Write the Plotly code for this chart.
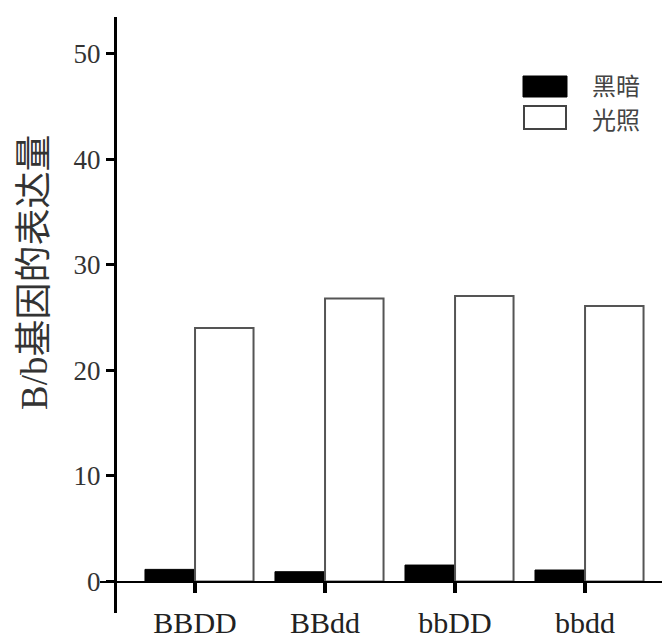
import plotly.graph_objects as go

# ---- data ----
categories = ["BBDD", "BBdd", "bbDD", "bbdd"]
dark_values = [1.15, 0.93, 1.56, 1.09]      # 黑暗
light_values = [24.0, 26.8, 27.05, 26.1]    # 光照
series_names = ["黑暗", "光照"]
y_ticks = [0, 10, 20, 30, 40, 50]
y_title = "B/b基因的表达量"

positions = list(range(len(categories)))

LATIN = "Liberation Serif, Times New Roman, Noto Sans CJK SC, serif"

fig = go.Figure()
fig.add_trace(go.Bar(
    x=positions, y=dark_values, name=series_names[0],
    width=0.385, offset=-0.385,
    marker=dict(color="black", line=dict(color="black", width=1)),
    showlegend=False,
))
fig.add_trace(go.Bar(
    x=positions, y=light_values, name=series_names[1],
    width=0.45, offset=0,
    marker=dict(color="white", line=dict(color="#555555", width=2)),
    showlegend=False,
))

# pixel -> paper helpers for the layout (plot area: x 100..662, y 17..613)
def px(xp):
    return (xp - 100) / 562.0

def py(yp):
    return (613 - yp) / 596.0

fig.update_layout(
    width=662, height=638,
    margin=dict(l=100, r=0, t=17, b=25, autoexpand=False),
    paper_bgcolor="white", plot_bgcolor="white",
    barmode="overlay",
    xaxis=dict(
        range=[-0.731, 3.592],
        tickmode="array", tickvals=positions, ticktext=categories,
        anchor="free", position=py(581.5),
        showline=True, linecolor="black", linewidth=2,
        ticks="outside", ticklen=10, tickwidth=4, tickcolor="black",
        showgrid=False, zeroline=False, automargin=False,
        tickfont=dict(family=LATIN, size=30, color="#222222"),
        ticklabelstandoff=4,
    ),
    yaxis=dict(
        range=[-2.98, 53.46],
        tickmode="array", tickvals=y_ticks,
        anchor="free", position=px(115),
        showline=True, linecolor="black", linewidth=3,
        ticks="outside", ticklen=8, tickwidth=3, tickcolor="black",
        showgrid=False, zeroline=False, automargin=False,
        tickfont=dict(family=LATIN, size=27, color="#333333"),
    ),
)

# y-axis title
fig.add_annotation(
    text=y_title, textangle=-90,
    xref="paper", yref="paper", x=px(34), y=py(273),
    xanchor="center", yanchor="middle", showarrow=False,
    font=dict(family=LATIN, size=37, color="#333333"),
)

# legend (boxes + labels)
fig.add_shape(type="rect", xref="paper", yref="paper",
              x0=px(523), x1=px(567), y0=py(97), y1=py(76),
              fillcolor="black", line=dict(color="black", width=1))
fig.add_shape(type="rect", xref="paper", yref="paper",
              x0=px(524), x1=px(566), y0=py(129), y1=py(106),
              fillcolor="white", line=dict(color="#444444", width=2))
fig.add_annotation(text=series_names[0], xref="paper", yref="paper",
                   x=px(590), y=py(85), xanchor="left", yanchor="middle",
                   showarrow=False,
                   font=dict(family="Noto Sans CJK SC", size=24, color="#444444"))
fig.add_annotation(text=series_names[1], xref="paper", yref="paper",
                   x=px(590), y=py(118), xanchor="left", yanchor="middle",
                   showarrow=False,
                   font=dict(family="Noto Sans CJK SC", size=24, color="#444444"))

fig.write_html("out.html",
               config={"displayModeBar": False},
               post_script="document.body.style.margin='0';document.body.style.padding='0';")
